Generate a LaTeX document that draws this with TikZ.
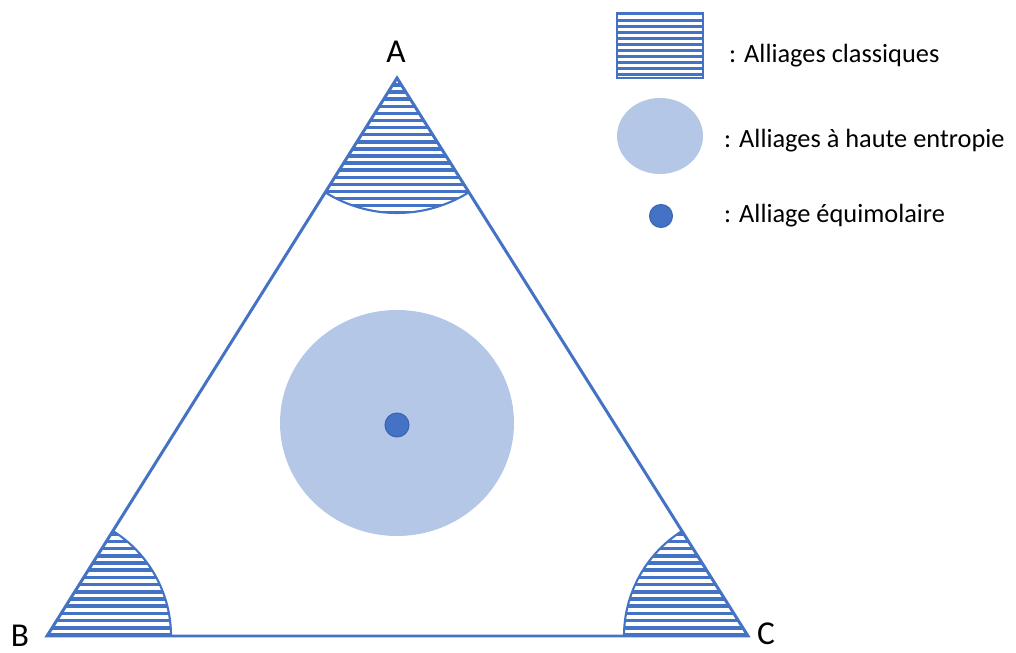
\documentclass[tikz,border=0pt]{standalone}
\usepackage{fontspec}
\setmainfont{Carlito}
\definecolor{bleu}{HTML}{4472C4}
\definecolor{bleuclair}{HTML}{B4C7E7}
\definecolor{bleufonce}{HTML}{3A64B0}
\tikzset{
  hachure/.style={bleu,line width=2pt},
  bord/.style={bleu,line width=1.7pt},
  legende/.style={anchor=base west,font=\fontsize{15}{18}\selectfont},
  sommet/.style={anchor=base,font=\fontsize{19}{22}\selectfont}
}
\begin{document}
\begin{tikzpicture}[x=0.02cm,y=0.02cm,line join=miter]
	\useasboundingbox (0,0) rectangle (1016,652);
	%sommets
	\coordinate (A) at (397,574);
	\coordinate (B) at (47,16);
	\coordinate (C) at (748,16);
	%zone haute entropie
	\fill[bleuclair] (397,229) ellipse[x radius=117,y radius=113];
	\filldraw[fill=bleu,draw=bleufonce,line width=0.6pt] (397,227) circle[radius=12];
	%hachures
	\begin{scope}
		\clip (A) -- ++(237.9:135) arc[start angle=237.9,end angle=302.2,radius=135] -- cycle;
		\foreach \h in {0,...,19} \draw[hachure] (250,{567-7.1*\h}) -- (550,{567-7.1*\h});
	\end{scope}
	\begin{scope}
		\clip (B) -- ++(0:124) arc[start angle=0,end angle=57.9,radius=124] -- cycle;
		\foreach \h in {0,...,16} \draw[hachure] (0,{17+7.2*\h}) -- (250,{17+7.2*\h});
	\end{scope}
	\begin{scope}
		\clip (C) -- ++(122.2:124) arc[start angle=122.2,end angle=180,radius=124] -- cycle;
		\foreach \h in {0,...,16} \draw[hachure] (550,{17+7.2*\h}) -- (800,{17+7.2*\h});
	\end{scope}
	%arcs
	\draw[bleu,line width=1.2pt] (A) ++(237.9:135) arc[start angle=237.9,end angle=302.2,radius=135];
	\draw[bleu,line width=1.2pt] (B) ++(0:124) arc[start angle=0,end angle=57.9,radius=124];
	\draw[bleu,line width=1.2pt] (C) ++(122.2:124) arc[start angle=122.2,end angle=180,radius=124];
	%triangle
	\draw[bord] (A) -- (B) -- (C) -- cycle;
	%labels
	\node[sommet] (lA) at (396,589) {A};
	\node[sommet] (lB) at (20,6) {B};
	\node[sommet] (lC) at (766,8) {C};
	%legende
	\begin{scope}
		\clip (617,574) rectangle (703,639);
		\foreach \h in {0,...,10} \draw[hachure,line width=1.7pt] (610,{577+6.1*\h}) -- (710,{577+6.1*\h});
	\end{scope}
	\draw[bleu,line width=1.2pt] (617,574) rectangle (703,639);
	\fill[bleuclair] (660,516) ellipse[x radius=43,y radius=38];
	\filldraw[fill=bleu,draw=bleufonce,line width=0.6pt] (661,436) circle[radius=11.5];
	\node[legende] (t1) at (723,589) {: Alliages classiques};
	\node[legende] (t2) at (718,504) {: Alliages à haute entropie};
	\node[legende] (t3) at (718,429) {: Alliage équimolaire};
\end{tikzpicture}
\end{document}
